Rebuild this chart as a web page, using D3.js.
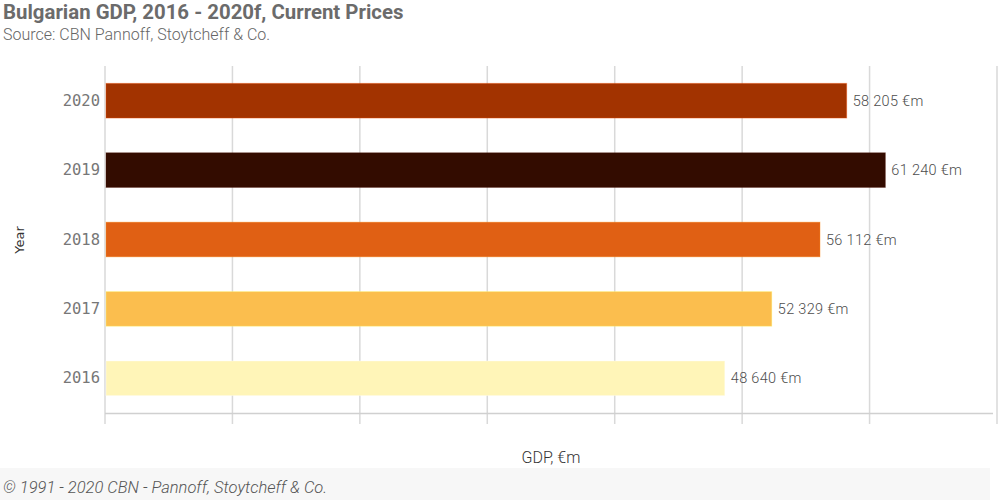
<!DOCTYPE html>
<html><head><meta charset="utf-8">
<script src="https://cdn.jsdelivr.net/npm/d3@7"></script>
<style>body{margin:0;background:#fff}svg{display:block}</style>
</head><body>
<svg id="c" width="1000" height="500"></svg>
<script>
const years = ["2020","2019","2018","2017","2016"];
const gdp = [58205, 61240, 56112, 52329, 48640];
const colors = ["#a23300","#330c00","#e06014","#fbbe4e","#fff5b8"];
const xTicks = [0,10000,20000,30000,40000,50000,60000,70000];
const data = years.map((y,i)=>({year:y, value:gdp[i], color:colors[i]}));

const svg = d3.select("#c");
const x = d3.scaleLinear().domain([0,70000]).range([105,997]);
const y = d3.scaleBand().domain(years).range([66,413]).paddingInner(0.5).paddingOuter(0.25);

// footer background
svg.append("rect").attr("x",0).attr("y",468).attr("width",990).attr("height",32).attr("fill","#f7f7f7");

// gridlines
svg.append("g").selectAll("line").data(xTicks).join("line")
  .attr("x1",d=>x(d)).attr("x2",d=>x(d)).attr("y1",66).attr("y2",424)
  .attr("stroke","#d9d9d9").attr("stroke-width",1.5);
// axis line
svg.append("line").attr("x1",105).attr("x2",993).attr("y1",413.5).attr("y2",413.5)
  .attr("stroke","#d0d0d0").attr("stroke-width",1.5);

// bars
svg.append("g").selectAll("rect").data(data).join("rect")
  .attr("x",x(0)+1).attr("y",d=>y(d.year))
  .attr("width",d=>x(d.value)-x(0)-1).attr("height",y.bandwidth())
  .attr("fill",d=>d.color)
  .attr("stroke",d=>d3.color(d.color).brighter(1.2)).attr("stroke-opacity",0.35).attr("stroke-width",1);

// value labels
svg.append("g").selectAll("text").data(data).join("text")
  .attr("x",d=>x(d.value)+6).attr("y",d=>y(d.year)+y.bandwidth()/2+5)
  .attr("font-family","Roboto, sans-serif").attr("font-weight",300).attr("font-size",14.5)
  .attr("letter-spacing",0.3).attr("fill","#4d4d4d")
  .text(d=>d3.format(",")(d.value).replace(/,/g," ")+" €m");

// year labels
svg.append("g").selectAll("text").data(years).join("text")
  .attr("x",100).attr("y",d=>y(d)+y.bandwidth()/2+5)
  .attr("text-anchor","end").attr("font-family","DejaVu Sans Mono, monospace").attr("font-size",15.5)
  .attr("fill","#777").text(d=>d);

// axis titles
svg.append("text").attr("transform","translate(24,240) rotate(-90)").attr("text-anchor","middle")
  .attr("font-family","DejaVu Sans, sans-serif").attr("font-size",13).attr("fill","#333").text("Year");
svg.append("text").attr("x",551).attr("y",463).attr("text-anchor","middle")
  .attr("font-family","Roboto, sans-serif").attr("font-weight",300).attr("font-size",16).attr("fill","#333").text("GDP, €m");

// title
svg.append("text").attr("x",3).attr("y",19).attr("font-family","Roboto, sans-serif").attr("font-weight","bold")
  .attr("font-size",20.4).attr("fill","#6b6b6b").text("Bulgarian GDP, 2016 - 2020f, Current Prices");
svg.append("text").attr("x",3).attr("y",40).attr("font-family","Roboto, sans-serif").attr("font-weight",300)
  .attr("font-size",16).attr("fill","#666").text("Source: CBN Pannoff, Stoytcheff & Co.");
// footer
svg.append("text").attr("x",3).attr("y",493).attr("font-family","Roboto, sans-serif").attr("font-style","italic")
  .attr("font-weight",300).attr("font-size",16.5).attr("fill","#555").text("© 1991 - 2020 CBN - Pannoff, Stoytcheff & Co.");
</script>
</body></html>
